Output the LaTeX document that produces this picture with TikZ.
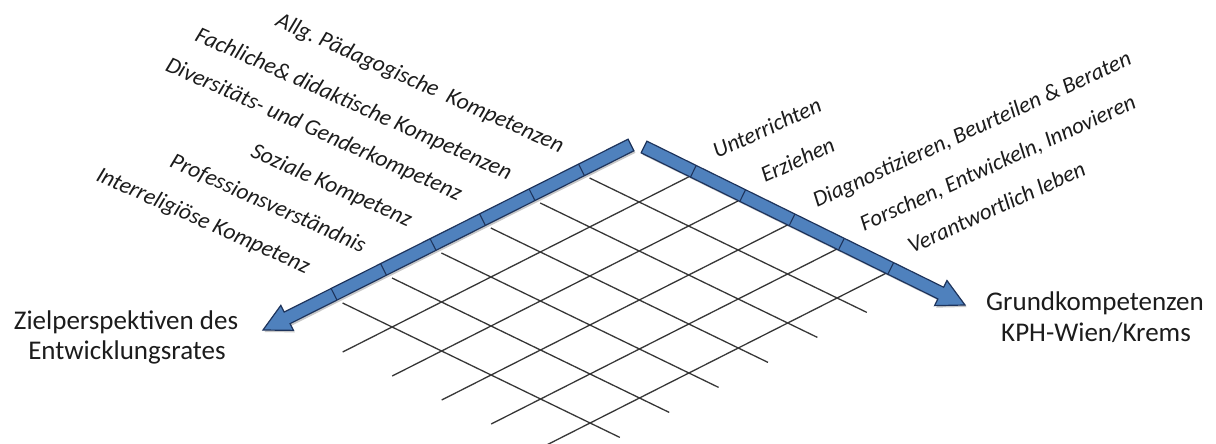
\documentclass[tikz,border=0pt]{standalone}
\usepackage{fontspec}
\setmainfont{Carlito}
\frenchspacing
\usetikzlibrary{calc}
\definecolor{barblue}{RGB}{79,129,189}
\definecolor{bardark}{RGB}{30,52,92}
\definecolor{gridgray}{RGB}{55,55,55}
\definecolor{txt}{RGB}{28,28,28}
\tikzset{
  gridline/.style={draw=gridgray, line width=1.3pt},
  barshape/.style={fill=barblue, draw=bardark, line width=1.2pt, line join=miter},
  barshadow/.style={fill=black, opacity=0.22},
  divider/.style={draw=bardark, line width=1.1pt},
  leftlabel/.style={font=\fontsize{23}{26}\selectfont\itshape, text=txt, rotate=-24, anchor=base east, inner sep=0pt},
  rightlabel/.style={font=\fontsize{22.8}{26}\selectfont\itshape, text=txt, rotate=24.5, anchor=base west, inner sep=0pt},
  axistext/.style={font=\fontsize{27}{31}\selectfont, text=txt, anchor=base, inner sep=0pt}
}
\newcommand\arrowoutline[2]{($(#1)!6.5pt!90:(#2)$) -- ($(#1-hb)!6.5pt!90:(#2)$) -- ($(#1-hb)!14pt!90:(#2)$) -- (#2) -- ($(#1-hb)!14pt!-90:(#2)$) -- ($(#1-hb)!6.5pt!-90:(#2)$) -- ($(#1)!6.5pt!-90:(#2)$) -- cycle}
\begin{document}
\begin{tikzpicture}[x=1pt,y=-1pt]
\useasboundingbox (0,0) rectangle (1216,444);
% lattice origin
\coordinate (X) at (639,153);
% grid
\foreach \i in {1,...,6} {
  \coordinate (gl\i) at ($(X)+\i*(-49.4,25)$);
  \coordinate (gle\i) at ($(gl\i)+5.6*(49.5,24)$);
  \draw[gridline] (gl\i) -- (gle\i);
}
\foreach \j in {1,...,5} {
  \coordinate (gr\j) at ($(X)+\j*(49.5,24)$);
  \coordinate (gre\j) at ($(gr\j)+7*(-49.4,25)$);
  \draw[gridline] (gr\j) -- (gre\j);
}
% bars
\coordinate (SL) at (631,145);
\coordinate (TL) at (263,330);
\coordinate (SR) at (644,147);
\coordinate (TR) at (965,305);
\coordinate (SL-hb) at ($(TL)!27pt!(SL)$);
\coordinate (SR-hb) at ($(TR)!27pt!(SR)$);
\begin{scope}[transform canvas={shift={(1.5pt,-2pt)}}]
  \fill[barshadow] \arrowoutline{SL}{TL};
  \fill[barshadow] \arrowoutline{SR}{TR};
\end{scope}
\filldraw[barshape] \arrowoutline{SL}{TL};
\filldraw[barshape] \arrowoutline{SR}{TR};
\foreach \k in {1,...,6} {
  \coordinate (dl\k) at ($(SL)!\k*55.4pt!(TL)$);
  \draw[divider] ($(dl\k)!6.5pt!90:(TL)$) -- ($(dl\k)!6.5pt!-90:(TL)$);
}
\foreach \k in {1,...,5} {
  \coordinate (dr\k) at ($(SR)!\k*55pt!(TR)$);
  \draw[divider] ($(dr\k)!6.5pt!90:(TR)$) -- ($(dr\k)!6.5pt!-90:(TR)$);
}
% left labels
\node[leftlabel] (l1) at (560,153) {Allg. Pädagogische\ \ Kompetenzen};
\node[leftlabel] (l2) at (508,180) {Fachliche\& didaktische Kompetenzen};
\node[leftlabel] (l3) at (458,201) {Diversitäts- und Genderkompetenz};
\node[leftlabel] (l4) at (408,227) {Soziale Kompetenz};
\node[leftlabel] (l5) at (362,253) {Professionsverständnis};
\node[leftlabel] (l6) at (306,274) {Interreligiöse Kompetenz};
% right labels
\node[rightlabel] (r1) at (717,159) {Unterrichten};
\node[rightlabel] (r2) at (765,183) {Erziehen};
\node[rightlabel] (r3) at (817,208) {Diagnostizieren, Beurteilen \& Beraten};
\node[rightlabel] (r4) at (864,232) {Forschen, Entwickeln, Innovieren};
\node[rightlabel] (r5) at (912,254) {Verantwortlich leben};
% axis titles
\node[axistext] (zl1) at (126,329) {Zielperspektiven des};
\node[axistext] (zl2) at (127,359) {Entwicklungsrates};
\node[axistext] (gk1) at (1095,310.5) {Grundkompetenzen};
\node[axistext] (gk2) at (1096,341.5) {KPH-Wien/Krems};
\end{tikzpicture}
\end{document}
